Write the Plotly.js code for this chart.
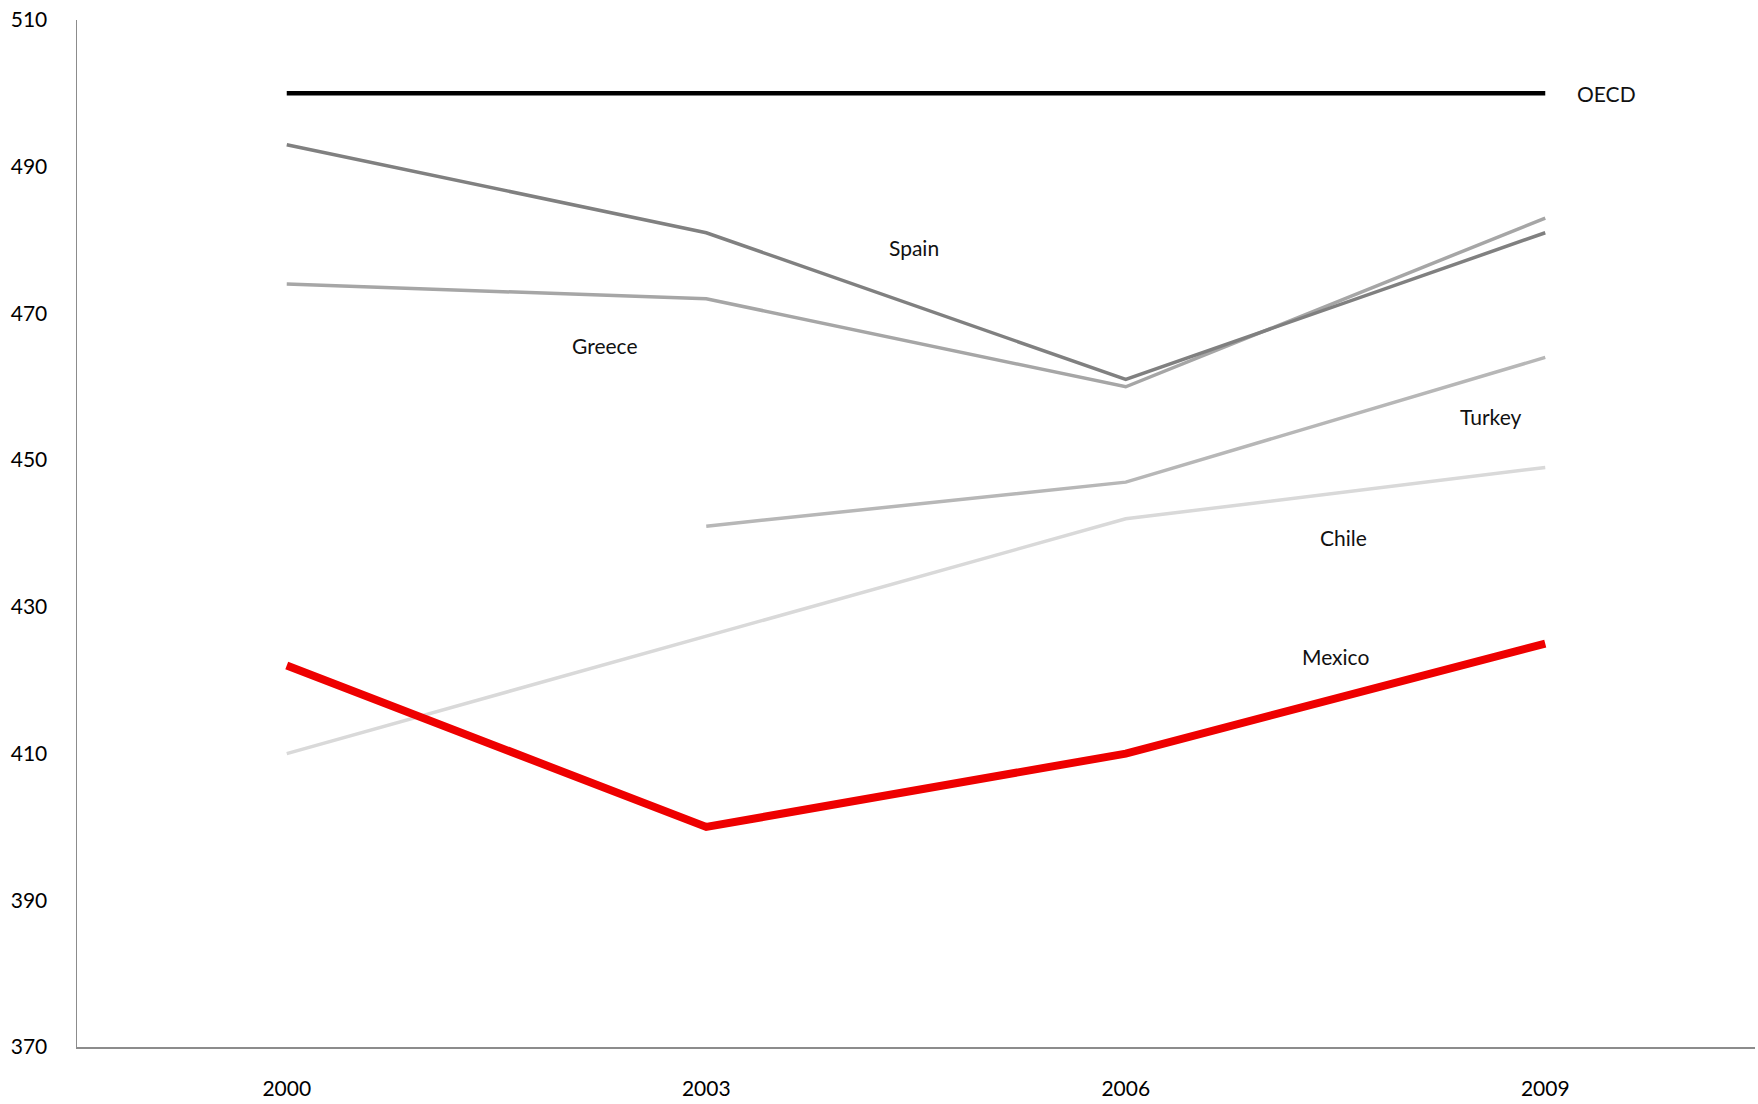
<!DOCTYPE html>
<html>
<head>
<meta charset="utf-8">
<script src="https://cdn.plot.ly/plotly-3.0.1.min.js"></script>
<style>
  html, body { margin: 0; padding: 0; background: #fff; }
  #chart { width: 1758px; height: 1104px; }
</style>
</head>
<body>
<div id="chart"></div>
<script>
// PISA reading scores by assessment year
const years = ['2000', '2003', '2006', '2009'];
const oecd   = [500, 500, 500, 500];
const spain  = [493, 481, 461, 481];
const greece = [474, 472, 460, 483];
const turkey = [null, 441, 447, 464];
const chile  = [410, null, 442, 449];
const mexico = [422, 400, 410, 425];

const seriesNames = ['OECD', 'Spain', 'Greece', 'Turkey', 'Chile', 'Mexico'];

function line(y, color, width) {
  return {
    x: years, y: y, type: 'scatter', mode: 'lines',
    connectgaps: true,
    line: { color: color, width: width },
    hoverinfo: 'skip', showlegend: false
  };
}

const traces = [
  line(chile, '#d9d9d9', 3.5),
  line(turkey, '#b7b7b7', 3.5),
  line(greece, '#a6a6a6', 3.5),
  line(spain, '#808080', 3.5),
  line(oecd, '#000000', 4.5),
  line(mexico, '#ee0000', 8)
];

const labelFont = { family: 'Lato, "Open Sans", sans-serif', size: 21, color: '#111' };
function label(text, x, y, anchor) {
  return { text: text, x: x, y: y, xref: 'x', yref: 'y', showarrow: false,
           xanchor: anchor || 'center', yanchor: 'middle', font: labelFont };
}

const annotations = [
  label(seriesNames[0], 3.07, 500, 'left'),
  label(seriesNames[1], 1.495, 479),
  label(seriesNames[2], 0.758, 465.6),
  label(seriesNames[3], 2.87, 456),
  label(seriesNames[4], 2.52, 439.5),
  label(seriesNames[5], 2.50, 423.3)
];

const tickFont = { family: 'Lato, "Open Sans", sans-serif', size: 21, color: '#000' };

const layout = {
  width: 1758, height: 1104,
  margin: { l: 77, r: 3, t: 20, b: 57 },
  paper_bgcolor: '#fff', plot_bgcolor: '#fff',
  xaxis: {
    type: 'category', range: [-0.5, 3.5],
    showgrid: false, zeroline: false,
    showline: true, linecolor: '#8c8c8c', linewidth: 1.5,
    ticks: '', ticklabelstandoff: 22,
    tickfont: tickFont, fixedrange: true
  },
  yaxis: {
    range: [370, 510], dtick: 20, tick0: 370,
    showgrid: false, zeroline: false,
    showline: true, linecolor: '#8c8c8c', linewidth: 1.5,
    ticks: '', ticklabelstandoff: 24,
    tickfont: tickFont, fixedrange: true
  },
  annotations: annotations,
  showlegend: false
};

Plotly.newPlot('chart', traces, layout, { displayModeBar: false, staticPlot: true });
</script>
</body>
</html>
